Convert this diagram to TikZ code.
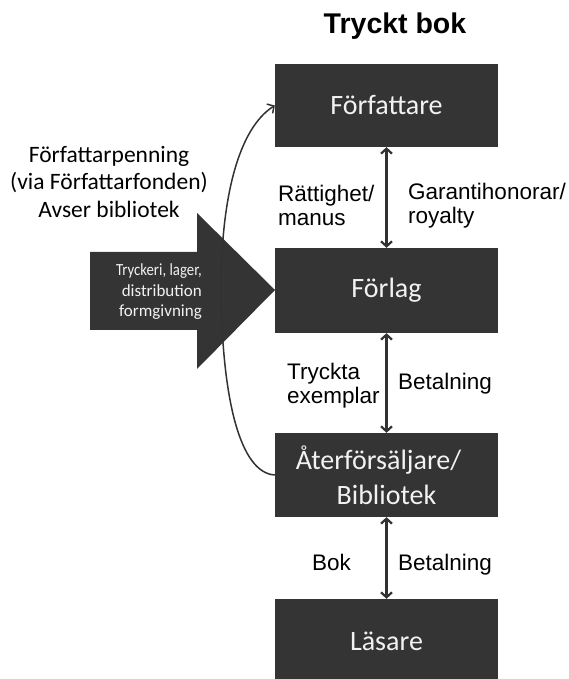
\documentclass[tikz,border=0pt]{standalone}
\usepackage{fontspec}
\setmainfont{Liberation Sans}
\newfontfamily\calfont{Carlito}
\usetikzlibrary{arrows.meta}
\definecolor{boxgray}{RGB}{52,52,52}
\definecolor{boxtext}{RGB}{242,242,242}
\definecolor{linegray}{RGB}{50,50,50}
\begin{document}
\begin{tikzpicture}[x=1pt,y=1pt,
  actor/.style={fill=boxgray, draw=none, minimum width=223pt, inner sep=0pt,
    text=boxtext, align=center, font=\calfont\fontsize{28}{35}\selectfont},
  lbl/.style={inner sep=0pt, anchor=west, align=left, text=black,
    font=\fontsize{22.5}{24}\selectfont},
  lblb/.style={inner sep=0pt, anchor=base west, text=black,
    font=\fontsize{22.5}{24}\selectfont},
  flow/.style={linegray, line width=2.2pt, {Straight Barb[length=5pt,width=11pt]}-{Straight Barb[length=5pt,width=11pt]}},
  curvearrow/.style={linegray, line width=1.5pt, -{Straight Barb[length=5pt,width=11pt]}}
]
\useasboundingbox (0,0) rectangle (569,679);

% title
\node[font=\bfseries\fontsize{28.5}{30}\selectfont] (title) at (395,653) {Tryckt bok};

% boxes
\node[actor, minimum height=83pt] (forf) at (386.5,573.5) {Författare};
\node[actor, minimum height=85pt] (forlag) at (386.5,388.5) {Förlag};
\node[actor, minimum height=84pt] (ater) at (386.5,204) {Återförsäljare/\hspace*{16pt}\\Bibliotek};
\node[actor, minimum height=84pt] (lasare) at (386.5,38) {Läsare};

% big arrow
\fill[boxgray] (90,427) -- (197,427) -- (197,466) -- (275,389) -- (197,310) -- (197,349) -- (90,349) -- cycle;
\node[inner sep=0pt, anchor=east, align=right, text=boxtext,
  font=\calfont\fontsize{17}{20.5}\selectfont] (arrowtxt) at (202,387)
  {\scalebox{0.87}[1]{Tryckeri, lager,}\\distribution\\formgivning};

% curve
\draw[curvearrow] (ater.west) .. controls (240,206) and (222,280) .. (221,389)
  .. controls (221,480) and (238,550) .. (forf.west);

% left text
\node[inner sep=0pt, align=center, font=\calfont\fontsize{23.5}{27.5}\selectfont] (fpenning) at (109,497)
  {Författarpenning\\(via Författarfonden)\\Avser bibliotek};

% vertical arrows
\draw[flow] (forf.south) -- (forlag.north);
\draw[flow] (forlag.south) -- (ater.north);
\draw[flow] (ater.south) -- (lasare.north);

% labels
\node[lbl] (l1) at (278,473.5) {Rättighet/\\manus};
\node[lbl] (l2) at (408,473.5) {Garantihonorar/\\royalty};
\node[lbl] (l3) at (287,293) {Tryckta\\exemplar};
\node[lblb] (l4) at (398,289) {Betalning};
\node[lblb] (l5) at (312,108) {Bok};
\node[lblb] (l6) at (398,108) {Betalning};
\end{tikzpicture}
\end{document}
